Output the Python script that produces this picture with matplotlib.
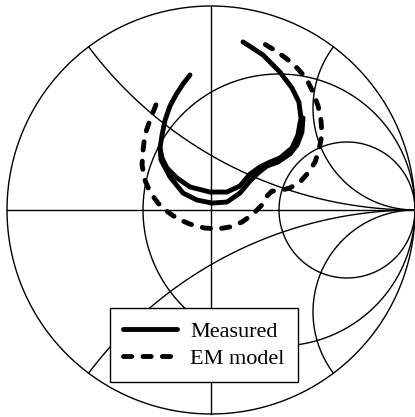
import numpy as np
import matplotlib
matplotlib.use("Agg")
import matplotlib.pyplot as plt

plt.rcParams['font.family'] = ['Liberation Serif', 'DejaVu Serif']

# -------------------------------------------------
# Data (reflection coefficient, real / imag)
# -------------------------------------------------

# measured trace, first pass (inner loop)
meas_inner_re = [-0.103, -0.137, -0.172, -0.201, -0.225, -0.240, -0.250, -0.240, -0.216,
                 -0.167, -0.103, -0.005, 0.078, 0.142, 0.191, 0.240, 0.289, 0.338, 0.397,
                 0.426, 0.441, 0.431, 0.397, 0.338, 0.255, 0.157]
meas_inner_im = [0.662, 0.618, 0.564, 0.510, 0.441, 0.368, 0.304, 0.255, 0.206,
                 0.157, 0.113, 0.088, 0.088, 0.118, 0.176, 0.211, 0.235, 0.255, 0.304,
                 0.368, 0.451, 0.529, 0.598, 0.676, 0.760, 0.824]

# measured trace, second pass (outer loop)
meas_outer_re = [-0.250, -0.245, -0.201, -0.137, -0.069, 0.005, 0.078, 0.142, 0.191,
                 0.230, 0.275, 0.328, 0.387, 0.422, 0.446, 0.451]
meas_outer_im = [0.304, 0.245, 0.162, 0.083, 0.049, 0.034, 0.039, 0.083, 0.142,
                 0.181, 0.216, 0.235, 0.275, 0.319, 0.382, 0.451]

# EM model
em_re = [-0.270, -0.299, -0.324, -0.333, -0.338, -0.324, -0.299, -0.260, -0.211, -0.162,
         -0.103, -0.034, 0.034, 0.093, 0.152, 0.206, 0.250, 0.275, 0.299, 0.328,
         0.387, 0.436, 0.475, 0.510, 0.529, 0.544, 0.539, 0.525, 0.500, 0.466,
         0.422, 0.373, 0.319, 0.270, 0.225]
em_im = [0.515, 0.441, 0.368, 0.294, 0.221, 0.147, 0.088, 0.034, -0.010, -0.044,
         -0.069, -0.088, -0.093, -0.083, -0.059, -0.020, 0.025, 0.069, 0.093, 0.093,
         0.108, 0.137, 0.181, 0.235, 0.294, 0.368, 0.441, 0.510, 0.578, 0.647,
         0.696, 0.740, 0.779, 0.809, 0.833]

# Smith chart grid values
R_CIRCLES = [0.5, 2.0]
X_ARCS = [0.5, 2.0, -0.5, -2.0]


def gamma(z):
    return (z - 1) / (z + 1)


fig = plt.figure(figsize=(4.15, 4.17), dpi=100)
ax = fig.add_axes([0, 0, 1, 1])

GRID_LW = 1.0
DATA_LW = 3.5

# unit circle
t = np.linspace(0, 2 * np.pi, 721)
ax.plot(np.cos(t), np.sin(t), color="black", lw=GRID_LW)

# real axis and vertical diameter
ax.plot([-1, 1], [0, 0], color="black", lw=GRID_LW)
ax.plot([0, 0], [-1, 1], color="black", lw=GRID_LW)

# constant resistance circles
xx = np.tan(np.linspace(-np.pi / 2 + 1e-4, np.pi / 2 - 1e-4, 2001))
for r in R_CIRCLES:
    g = gamma(r + 1j * xx)
    ax.plot(g.real, g.imag, color="black", lw=GRID_LW)

# constant reactance arcs
rr = np.concatenate([[0], np.logspace(-4, 4, 1500)])
for x in X_ARCS:
    g = gamma(rr + 1j * x)
    ax.plot(g.real, g.imag, color="black", lw=GRID_LW)

# data
ax.plot(em_re, em_im, color="black", lw=DATA_LW, linestyle=(0, (1.7, 2.3)),
        dash_capstyle="round", label="EM model", zorder=3)
ax.plot(meas_inner_re, meas_inner_im, color="black", lw=DATA_LW,
        solid_capstyle="round", solid_joinstyle="round", label="Measured", zorder=4)
ax.plot(meas_outer_re, meas_outer_im, color="black", lw=DATA_LW,
        solid_capstyle="round", solid_joinstyle="round", zorder=4)

handles, labels = ax.get_legend_handles_labels()
leg = ax.legend([handles[1], handles[0]], [labels[1], labels[0]],
                loc="upper left", bbox_to_anchor=(0.265, 0.2614), borderaxespad=0,
                fancybox=False, edgecolor="black", framealpha=1, fontsize=16,
                handlelength=2.4, handletextpad=0.6, borderpad=0.6,
                labelspacing=0.3)
leg.get_frame().set_linewidth(1.0)
leg.set_zorder(10)

ax.set_xlim(-211 / 204, 204 / 204)
ax.set_ylim(-207 / 204, 210 / 204)
ax.axis("off")

fig.savefig("out.png", dpi=100)
